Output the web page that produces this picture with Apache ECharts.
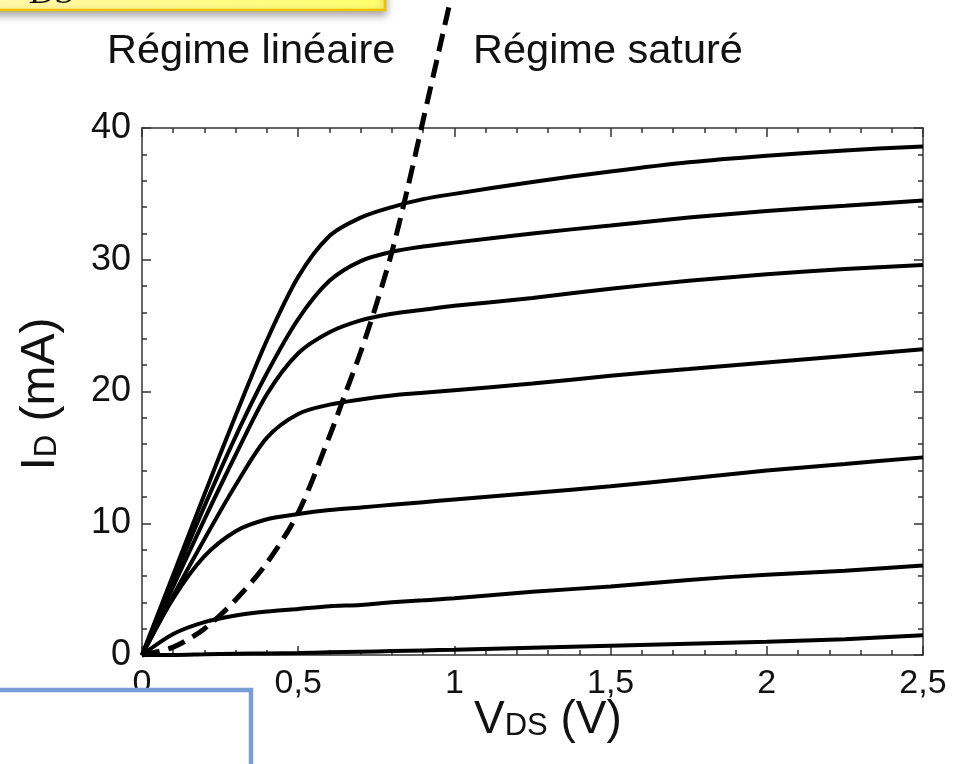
<!DOCTYPE html>
<html>
<head>
<meta charset="utf-8">
<script src="https://cdn.jsdelivr.net/npm/echarts@6/dist/echarts.min.js"></script>
<style>
  html, body { margin: 0; padding: 0; background: #fff; }
  #chart { width: 959px; height: 764px; }
</style>
</head>
<body>
<div id="chart"></div>
<script>
// V_DS sample points shared by the output curves
const vds = [0, 0.1, 0.2, 0.3, 0.4, 0.5, 0.6, 0.7, 0.8, 0.9, 1.0, 1.25, 1.5, 1.75, 2.0, 2.25, 2.5];

// I_D (mA) for each curve, top to bottom
const id1 = [0, 6.1, 12.2, 18.2, 23.9, 28.7, 31.8, 33.2, 34.0, 34.6, 35.0, 35.9, 36.7, 37.4, 37.9, 38.3, 38.6];
const id2 = [0, 5.7, 11.3, 16.6, 21.4, 25.5, 28.4, 29.9, 30.6, 31.0, 31.3, 32.0, 32.6, 33.2, 33.7, 34.1, 34.5];
const id3 = [0, 5.2, 10.3, 15.2, 19.8, 22.9, 24.5, 25.4, 25.9, 26.2, 26.5, 27.1, 27.8, 28.4, 28.9, 29.3, 29.6];
const id4 = [0, 4.5, 8.8, 12.9, 16.5, 18.3, 19.0, 19.4, 19.7, 19.9, 20.1, 20.6, 21.2, 21.7, 22.2, 22.7, 23.2];
const id5 = [0, 4.3, 7.5, 9.4, 10.3, 10.7, 11.0, 11.2, 11.4, 11.6, 11.8, 12.3, 12.8, 13.4, 14.0, 14.5, 15.0];
const id6 = [0, 1.6, 2.5, 3.0, 3.3, 3.5, 3.7, 3.8, 4.0, 4.15, 4.3, 4.8, 5.2, 5.7, 6.1, 6.4, 6.8];
const id7 = [0, 0, 0.05, 0.1, 0.12, 0.15, 0.2, 0.25, 0.3, 0.35, 0.4, 0.55, 0.7, 0.85, 1.0, 1.2, 1.5];

// saturation boundary (dashed)
const vSat = [0, 0.1, 0.2, 0.3, 0.4, 0.5, 0.6, 0.65, 0.7, 0.75, 0.8, 0.85, 0.9, 0.95, 1.0];
const iSat = [0, 0.6, 2.0, 4.2, 7.0, 10.8, 16.6, 19.8, 23.0, 26.6, 30.6, 35.4, 40.6, 45.8, 51.0];

const chart = echarts.init(document.getElementById('chart'));

const pair = (xs, ys) => xs.map((x, i) => [x, ys[i]]);
const curves = [id1, id2, id3, id4, id5, id6, id7];

const fontFam = '"Liberation Sans", Arial, sans-serif';
const axisCol = '#333';

function xAxisDef(pos, showLabel) {
  return {
    type: 'value', position: pos, min: 0, max: 2.5, interval: 0.5,
    axisLine: { show: true, onZero: false, lineStyle: { color: axisCol, width: 1.5 } },
    axisTick: { show: true, inside: true, length: 9, lineStyle: { color: axisCol, width: 1.5 } },
    minorTick: { show: true, splitNumber: 5, length: 5, lineStyle: { color: axisCol, width: 1.5 } },
    splitLine: { show: false },
    axisLabel: {
      show: showLabel, margin: 12, color: '#111', fontSize: 34, fontFamily: fontFam,
      formatter: v => String(v).replace('.', ',')
    }
  };
}
function yAxisDef(pos, showLabel) {
  return {
    type: 'value', position: pos, min: 0, max: 40, interval: 10,
    axisLine: { show: true, onZero: false, lineStyle: { color: axisCol, width: 1.5 } },
    axisTick: { show: true, inside: true, length: 9, lineStyle: { color: axisCol, width: 1.5 } },
    minorTick: { show: true, splitNumber: 5, length: 5, lineStyle: { color: axisCol, width: 1.5 } },
    splitLine: { show: false },
    axisLabel: { show: showLabel, margin: 11, color: '#111', fontSize: 36, fontFamily: fontFam }
  };
}

const series = curves.map((c, k) => ({
  name: 'c' + (k + 1),
  type: 'line',
  data: pair(vds, c),
  showSymbol: false,
  smooth: 0.3,
  lineStyle: { color: '#000', width: 4 },
  z: 3
}));

series.push({
  name: 'sat',
  type: 'line',
  data: pair(vSat, iSat),
  showSymbol: false,
  smooth: 0.3,
  clip: false,
  lineStyle: { color: '#000', width: 5, type: [18, 9] },
  z: 4
});

const option = {
  animation: false,
  backgroundColor: '#fff',
  grid: { left: 142, right: 36, top: 128, bottom: 109 },
  xAxis: [xAxisDef('bottom', true), xAxisDef('top', false)],
  yAxis: [yAxisDef('left', true), yAxisDef('right', false)],
  series: series,
  graphic: [
    {
      type: 'text', left: 107, top: 31, z: 10,
      style: { text: 'Régime linéaire', fontSize: 41.5, fontFamily: fontFam, fill: '#111' }
    },
    {
      type: 'text', left: 473, top: 31, z: 10,
      style: { text: 'Régime saturé', fontSize: 41.5, fontFamily: fontFam, fill: '#111' }
    },
    {
      type: 'text', left: 474, top: 697, z: 10,
      style: {
        text: '{a|V}{b|DS}{a| (V)}',
        rich: {
          a: { fontSize: 46, fontFamily: fontFam, fill: '#111' },
          b: { fontSize: 31, fontFamily: fontFam, fill: '#111', padding: [13, 0, 0, 0] }
        }
      }
    },
    {
      type: 'text', x: 41, y: 394, rotation: Math.PI / 2, z: 10,
      style: {
        text: '{a|I}{b|D}{a| (mA)}',
        align: 'center', verticalAlign: 'middle',
        rich: {
          a: { fontSize: 48, fontFamily: fontFam, fill: '#111' },
          b: { fontSize: 31, fontFamily: fontFam, fill: '#111', padding: [13, 0, 0, 0] }
        }
      }
    },
    // yellow note box cut at the top edge
    {
      type: 'rect', z: 20,
      shape: { x: -10, y: -30, width: 395, height: 40 },
      style: {
        fill: new echarts.graphic.LinearGradient(0, 0, 1, 0, [
          { offset: 0, color: '#fff7a8' },
          { offset: 1, color: '#ffff70' }
        ]),
        stroke: '#f2c000', lineWidth: 2.5,
        shadowBlur: 8, shadowOffsetY: 4, shadowColor: 'rgba(0,0,0,0.35)'
      }
    },
    {
      type: 'text', x: 30, y: 12, z: 21,
      style: {
        text: 'DS', fontSize: 36, fontStyle: 'italic',
        fontFamily: '"Liberation Serif", "DejaVu Serif", serif', fill: '#111',
        verticalAlign: 'bottom'
      }
    },
    // blue frame cut at the bottom-left
    {
      type: 'rect', z: 20,
      shape: { x: -10, y: 690, width: 261, height: 100 },
      style: { fill: '#fff', stroke: '#7a9cd8', lineWidth: 4.5 }
    }
  ]
};

chart.setOption(option);
</script>
</body>
</html>
